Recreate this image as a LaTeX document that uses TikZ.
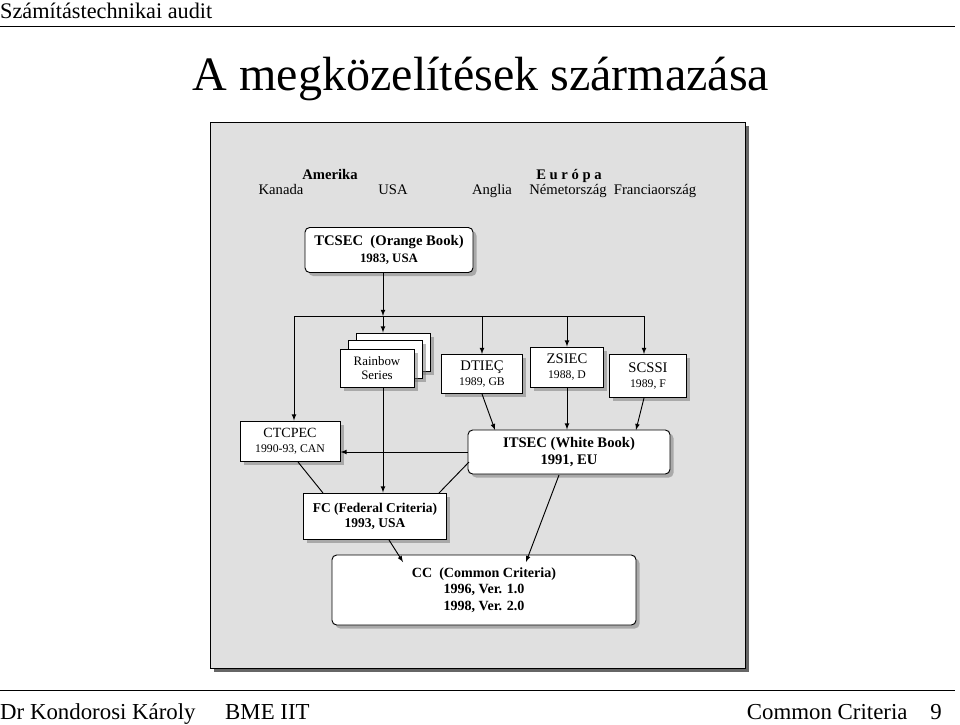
\documentclass[tikz,border=0pt]{standalone}
\usepackage{fontspec}
\setmainfont{Liberation Serif}
\usetikzlibrary{shadows}
\tikzset{
  box/.style={draw, fill=white, thick, drop shadow={shadow xshift=3pt, shadow yshift=-3pt, fill=black!55}, align=center, inner sep=0pt},
  rbox/.style={box, rounded corners=4pt},
  small/.style={font=\fontsize{11}{12}\selectfont},
  lbl/.style={font=\fontsize{12.5}{13}\selectfont, anchor=base},
  arr/.style={->, >=latex, thick},
}
\begin{document}
\begin{tikzpicture}[x=0.03cm, y=-0.03cm]
  \useasboundingbox (0,0) rectangle (960,724);
  % header and footer
  \node[anchor=base west, inner sep=0pt, font=\fontsize{19}{20}\selectfont] (head) at (0,18) {Számítástechnikai audit};
  \draw[thick] (0,26) -- (955,26);
  \node[anchor=base, font=\fontsize{41}{44}\selectfont] (title) at (481,90) {A megközelítések származása};
  \draw[thick] (0,690) -- (955,690);
  \node[anchor=base west, inner sep=0pt, font=\fontsize{19.5}{21}\selectfont] (auth) at (0,719) {Dr Kondorosi Károly};
  \node[anchor=base west, inner sep=0pt, font=\fontsize{19.5}{21}\selectfont] (inst) at (225,719) {BME IIT};
  \node[anchor=base east, inner sep=0pt, font=\fontsize{19.5}{21}\selectfont] (foot) at (942,719) {Common Criteria\quad 9};
  % panel
  \fill[black!60] (214,126) rectangle (749,672);
  \draw[fill=black!12] (210,122) rectangle (745,668);
  % countries
  \node[lbl, font=\bfseries\fontsize{12.5}{13}\selectfont] (amer) at (330,179) {Amerika};
  \node[lbl, font=\bfseries\fontsize{12.5}{13}\selectfont] (eur) at (569,179) {E u r ó p a};
  \node[lbl] (kan) at (281,194) {Kanada};
  \node[lbl] (usa) at (393,194) {USA};
  \node[lbl] (ang) at (492,194) {Anglia};
  \node[lbl] (nem) at (568,194) {Németország};
  \node[lbl] (fra) at (655,194) {Franciaország};
  % boxes
  \node[rbox, minimum width=168*0.03cm, minimum height=45*0.03cm, font=\bfseries\fontsize{12.5}{14}\selectfont] (tcsec) at (389,250) {TCSEC\ \ (Orange Book)\\{\fontsize{11}{12}\selectfont 1983, USA}};
  \node[box, minimum width=74*0.03cm, minimum height=38*0.03cm] (rb3) at (393,352) {};
  \node[box, minimum width=74*0.03cm, minimum height=38*0.03cm] (rb2) at (385,359) {};
  \node[box, minimum width=74*0.03cm, minimum height=38*0.03cm, small] (rb) at (377,368) {Rainbow\\Series};
  \node[box, minimum width=81*0.03cm, minimum height=39*0.03cm, font=\fontsize{12.5}{13}\selectfont] (dtiec) at (482,374) {DTIEÇ\\{\fontsize{10}{11}\selectfont 1989, GB}};
  \node[box, minimum width=73*0.03cm, minimum height=40*0.03cm, font=\fontsize{12.5}{13}\selectfont] (zsiec) at (567,367) {ZSIEC\\{\fontsize{10}{11}\selectfont 1988, D}};
  \node[box, minimum width=77*0.03cm, minimum height=43*0.03cm, font=\fontsize{12.5}{13}\selectfont] (scssi) at (648,376) {SCSSI\\{\fontsize{10}{11}\selectfont 1989, F}};
  \node[box, minimum width=100*0.03cm, minimum height=40*0.03cm, font=\fontsize{12}{13}\selectfont] (ctcpec) at (290,441) {CTCPEC\\{\fontsize{10}{11}\selectfont 1990-93, CAN}};
  \node[rbox, minimum width=202*0.03cm, minimum height=44*0.03cm, font=\bfseries\fontsize{12.5}{14}\selectfont] (itsec) at (569,452) {ITSEC (White Book)\\1991, EU};
  \node[box, minimum width=143*0.03cm, minimum height=46*0.03cm, font=\bfseries\fontsize{11.5}{13}\selectfont] (fc) at (375,516) {FC (Federal Criteria)\\1993, USA};
  \node[rbox, minimum width=304*0.03cm, minimum height=70*0.03cm, font=\bfseries\fontsize{12}{14}\selectfont] (cc) at (484,590) {CC\ \ (Common Criteria)\\1996, Ver. 1.0\\1998, Ver. 2.0};
  % connectors
  \coordinate (bus) at (383,316);
  \coordinate (busl) at (294,316);
  \coordinate (busr) at (644,316);
  \draw[arr] (tcsec.south -| bus) -- (bus);
  \draw[thick] (busl) -- (busr);
  \draw[arr] (bus) -- (bus |- rb3.north);
  \draw[arr] (busl) -- (busl |- ctcpec.north);
  \draw[arr] (dtiec.north |- bus) -- (dtiec.north);
  \draw[arr] (zsiec.north |- bus) -- (zsiec.north);
  \draw[arr] (busr) -- (busr |- scssi.north);
  \draw[arr] (rb.south -| bus) -- (bus |- fc.north);
  \draw[arr] (dtiec.south) -- (495,430);
  \draw[arr] (zsiec.south) -- (zsiec.south |- itsec.north);
  \draw[arr] (644,398) -- (636,430);
  \draw[arr] (itsec.west) -- (ctcpec.east |- itsec.west);
  \draw[thick] (298,462) -- (323,493);
  \draw[thick] (469,462) -- (439,493);
  \draw[arr] (389,540) -- (403,562);
  \draw[arr] (559,475) -- (526,562);
\end{tikzpicture}
\end{document}
